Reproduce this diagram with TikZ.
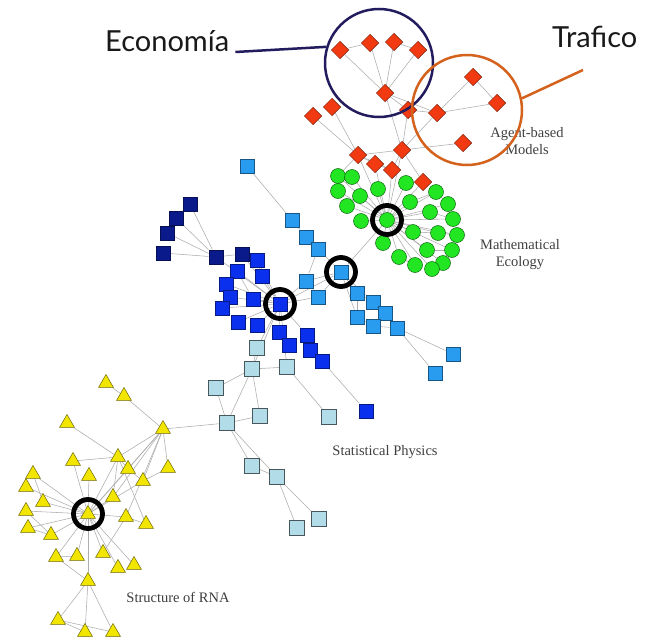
\documentclass[tikz,border=0pt]{standalone}
\usepackage{fontspec}
\setmainfont{Liberation Serif}
\newfontfamily\calloutfont{Lato}
\usetikzlibrary{shapes.geometric, backgrounds}

% Community colours
\definecolor{agentred}{HTML}{F23A12}
\definecolor{ecogreen}{HTML}{22E622}
\definecolor{skyblue}{HTML}{2A9CF0}
\definecolor{physblue}{HTML}{0A30EE}
\definecolor{navyblue}{HTML}{0A1A8A}
\definecolor{paleblue}{HTML}{B2DCE8}
\definecolor{rnayellow}{HTML}{F2E600}
\definecolor{econcolor}{HTML}{221C5E}
\definecolor{trafcolor}{HTML}{D4611C}

\begin{document}
\begin{tikzpicture}[
    x=1pt, y=-1pt, % pixel-like units, y grows downwards
    % Styles for the nodes and lines
    vertex/.style={draw, line width=0.5pt, inner sep=0pt},
    agent/.style={vertex, diamond, fill=agentred, draw=agentred!50!black, minimum size=17.5pt},
    species/.style={vertex, circle, fill=ecogreen, draw=ecogreen!45!black, minimum size=15pt},
    sky/.style={vertex, rectangle, fill=skyblue, draw=skyblue!55!black, minimum size=14.5pt},
    phys/.style={vertex, rectangle, fill=physblue, draw=physblue!55!black, minimum size=14.5pt},
    navy/.style={vertex, rectangle, fill=navyblue, draw=navyblue!60!black, minimum size=14.5pt},
    pale/.style={vertex, rectangle, fill=paleblue, draw=paleblue!40!black, minimum size=15pt},
    rna/.style={vertex, regular polygon, regular polygon sides=3, fill=rnayellow, draw=rnayellow!45!black, minimum size=17pt},
    link/.style={draw=black!32, line width=0.55pt},
    hubring/.style={circle, draw=black, line width=4.8pt, minimum size=29pt, inner sep=0pt},
    topic/.style={text=black!75, font=\fontsize{14.5}{17}\selectfont, align=center},
    callout/.style={font=\calloutfont\fontsize{29}{32}\selectfont, text=black!90, inner sep=0pt}
]

% Agent-based models (red diamonds)
\foreach \n/\x/\y in {r1/340/50, r2/370/43, r3/394/42, r4/418/50, r5/385/93,
    r6/408/110, r7/437/113, r8/473/77, r9/497/103, r10/463/143, r11/313/116,
    r12/332/107, r13/358/155, r14/402/150, r15/375/164, r16/392/170, r17/423/182}
    \node[agent] (\n) at (\x,\y) {};

% Mathematical ecology (green circles)
\foreach \n/\x/\y in {g0/387/220, g1/338/176, g2/352/177, g3/338/191, g4/360/196,
    g5/378/189, g6/406/183, g7/347/206, g8/361/221, g9/410/202, g10/436/192,
    g11/448/204, g12/430/212, g13/453/219, g14/413/232, g15/438/233, g16/457/235,
    g17/383/243, g18/427/250, g19/452/250, g20/399/257, g21/415/265, g22/443/263,
    g23/432/269}
    \node[species] (\n) at (\x,\y) {};

% Statistical physics, light blue arm
\foreach \n/\x/\y in {s1/247/166, s2/292/220, s3/306/237, s4/318/249, s5/341/272,
    s6/306/281, s7/318/297, s8/357/293, s9/373/302, s10/357/317, s11/385/313,
    s12/373/326, s13/397/328, s14/453/354, s15/435/373}
    \node[sky] (\n) at (\x,\y) {};

% Statistical physics, blue core
\foreach \n/\x/\y in {b0/280/304, b1/257/260, b2/262/276, b3/237/271, b4/226/284,
    b5/230/297, b6/222/308, b7/253/299, b8/238/322, b9/257/325, b10/279/332,
    b11/289/345, b12/307/335, b13/310/350, b14/322/361, b15/366/411}
    \node[phys] (\n) at (\x,\y) {};

% Statistical physics, dark arm
\foreach \n/\x/\y in {n1/190/204, n2/176/218, n3/167/233, n4/163/253, n5/216/257, n6/242/254}
    \node[navy] (\n) at (\x,\y) {};

% Statistical physics, pale tail
\foreach \n/\x/\y in {p1/257/348, p2/252/369, p3/287/367, p4/216/388, p5/260/416,
    p6/227/423, p7/329/417, p8/252/466, p9/277/477, p10/319/519, p11/297/528}
    \node[pale] (\n) at (\x,\y) {};

% Structure of RNA (yellow triangles)
\foreach \n/\x/\y in {y0/88/514, y1/106/383, y2/124/396, y3/163/429, y4/67/423,
    y5/118/457, y6/73/461, y7/128/469, y8/168/468, y9/89/476, y10/33/474,
    y11/143/481, y12/26/487, y13/43/502, y14/113/497, y15/26/511, y16/126/517,
    y17/146/524, y18/28/528, y19/51/535, y20/56/557, y21/77/556, y22/103/553,
    y23/118/568, y24/134/565, y25/88/581, y26/58/620, y27/85/632, y28/113/632}
    \node[rna] (\n) at (\x,\y) {};

% Rings around the hubs
\node[hubring] (ringg) at (g0) {};
\node[hubring] (rings) at (s5) {};
\node[hubring] (ringb) at (b0) {};
\node[hubring] (ringy) at (y0) {};

% Topic labels
\node[topic] (abm) at (527,141) {Agent-based\\Models};
\node[topic] (ecol) at (520,255) {Mathematical\\Ecology};
\node[topic] (stat) at (385,452) {Statistical Physics};
\node[topic] (rnal) at (178,597) {Structure of RNA};

% Callouts
\node[circle, draw=econcolor, line width=2.5pt, minimum size=108pt] (econring) at (379,63) {};
\node[circle, draw=trafcolor, line width=2.5pt, minimum size=110pt] (trafring) at (467,110) {};
\node[callout, anchor=base west] (econlabel) at (105,52) {Economía};
\node[callout, anchor=base west] (traflabel) at (552,47) {Traf{}ico};
\coordinate (trafend) at (583,70);
\draw[econcolor, line width=2.5pt] (econlabel.base east) ++(6pt,0) -- (econring.163);
\draw[trafcolor, line width=2.5pt] (trafring.12) -- (trafend);

\begin{scope}[on background layer]
\fill[white] (0,0) rectangle (646,637);
% Edges within and between the communities
\foreach \a/\b in {r1/r2, r3/r4, r1/r5, r2/r5, r3/r5, r4/r5, r5/r6, r5/r7, r6/r7,
    r7/r8, r8/r9, r7/r9, r7/r14, r14/r10, r5/r14, r6/r14, r11/r13, r12/r13,
    r13/r14, r13/r15, r14/r16, r14/r17, r13/r16, r15/r16,
    r13/g0, r15/g0, r16/g0, r17/g0, r14/g0, r13/g1}
    \draw[link] (\a) -- (\b);
\foreach \k in {1,...,23}
    \draw[link] (g0) -- (g\k);
\foreach \a/\b in {g14/g15, g15/g16, g12/g13, g9/g10, g18/g19, g1/g3, g20/g21, g22/g23}
    \draw[link] (\a) -- (\b);
\foreach \a/\b in {s1/s2, s2/s3, s3/s4, s4/s5, s5/g0, s5/s6, s5/s7, s5/s8, s5/s9,
    s5/s10, s8/s9, s8/s10, s9/s11, s10/s12, s11/s13, s12/s13, s11/s12, s13/s14,
    s13/s15, s6/s7, s6/b0, s7/b0, s5/b0, s4/s6}
    \draw[link] (\a) -- (\b);
\foreach \k in {1,...,10,12}
    \draw[link] (b0) -- (b\k);
\foreach \a/\b in {b10/b11, b12/b13, b13/b14, b14/b15, b1/b2, b3/b4, b4/b5, b5/b6, b3/b7}
    \draw[link] (\a) -- (\b);
\foreach \a/\b in {n1/n2, n2/n3, n1/n5, n2/n5, n3/n5, n4/n5, n5/n6, n6/b0, n5/b0, n6/b1}
    \draw[link] (\a) -- (\b);
\foreach \a/\b in {b0/p1, p1/p2, b0/p2, p2/p3, b0/p3, p3/p7, p2/p4, p2/p6, p2/p5,
    p4/p6, p6/p5, p6/p8, p6/p9, p8/p9, p9/p10, p9/p11, p6/y3}
    \draw[link] (\a) -- (\b);
\foreach \a/\b in {y1/y2, y2/y3, y3/y5, y3/y7, y3/y8, y3/y11, y3/y14, y3/y0, y3/y16,
    y4/y5, y6/y5, y5/y7, y5/y0, y5/y14, y5/y17, y7/y11, y10/y13, y15/y19,
    y18/y19, y20/y21, y16/y17, y22/y16, y25/y26, y25/y27, y25/y28, y26/y28,
    y26/y27, y20/y25, y8/y11}
    \draw[link] (\a) -- (\b);
\foreach \k in {6,7,9,10,11,12,13,14,15,16,18,19,20,21,22,23,24,25}
    \draw[link] (y0) -- (y\k);
\end{scope}

\useasboundingbox (0,0) rectangle (646,637);
\end{tikzpicture}
\end{document}
